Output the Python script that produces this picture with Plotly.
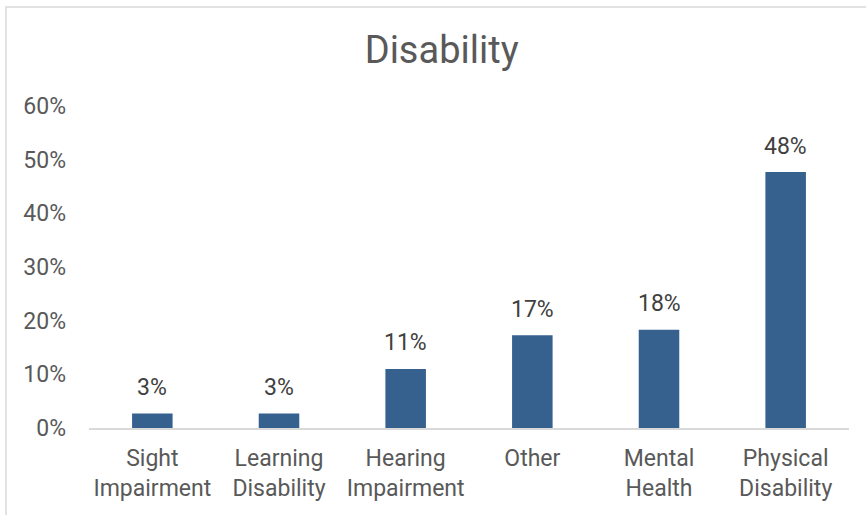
import plotly.graph_objects as go

# Disability categories and shares
categories = ["Sight<br>Impairment", "Learning<br>Disability", "Hearing<br>Impairment",
              "Other", "Mental<br>Health", "Physical<br>Disability"]
shares = [0.027, 0.027, 0.11, 0.173, 0.183, 0.477]
y_ticks = [0, 0.1, 0.2, 0.3, 0.4, 0.5, 0.6]


def main():
  fig = go.Figure(go.Bar(
    x=categories, y=shares,
    marker=dict(color="#36618F", line=dict(width=0)),
    hoverinfo="x+y",
  ))

  # value labels sit a bit higher above the bars than plotly's "outside" text
  for cat, val in zip(categories, shares):
    fig.add_annotation(x=cat, y=val, text=f"{val:.0%}", showarrow=False,
                       yanchor="middle", yshift=26,
                       font=dict(family="Roboto", size=23, color="#404040"))

  # chart area border like the Excel frame
  left, right, top, bottom = 89, 849, 106, 428
  w, h = right - left, bottom - top
  fig.add_shape(type="rect", xref="paper", yref="paper",
                x0=(6 - left) / w, x1=(875 - left) / w,
                y0=(bottom - 525) / h, y1=(bottom - 7) / h,
                line=dict(color="#D9D9D9", width=1.5), layer="below")

  fig.update_layout(
    width=866, height=515,
    margin=dict(l=left, r=866 - right, t=top, b=515 - bottom),
    paper_bgcolor="white", plot_bgcolor="white",
    title=dict(text="Disability", x=0.51, xanchor="center", y=0.903, yanchor="middle",
               font=dict(family="Roboto", size=38, color="#595959")),
    bargap=0.68, showlegend=False,
    font=dict(family="Roboto", color="#595959"),
  )
  fig.update_xaxes(showline=True, linecolor="#D9D9D9", linewidth=1.5,
                   showgrid=False, tickfont=dict(size=23, color="#595959"),
                   ticklabelstandoff=9)
  fig.update_yaxes(range=[0, 0.6], tickvals=y_ticks, tickformat=".0%",
                   showgrid=False, zeroline=False, showline=False,
                   tickfont=dict(size=23, color="#595959"),
                   ticklabelstandoff=22)
  fig.write_html("out.html", config={"displayModeBar": False},
                 post_script="document.body.style.margin='0';")


if __name__ == '__main__':
  main()
